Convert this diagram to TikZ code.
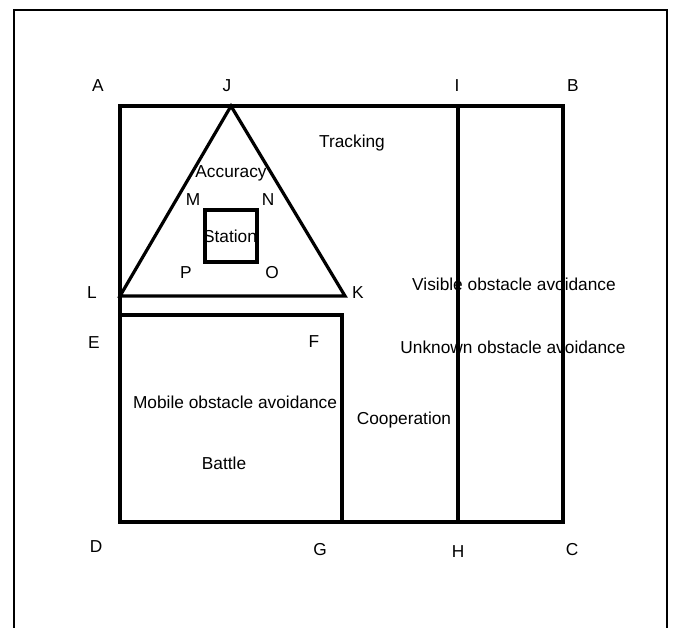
\documentclass[tikz,border=0pt]{standalone}
\usepackage{fontspec}
\setmainfont{Liberation Sans}
\begin{document}
\begin{tikzpicture}[x=1pt,y=-1pt,
  thickline/.style={line width=3.2pt},
  lbl/.style={inner sep=0pt,font=\fontsize{17.3}{20}\selectfont},
  txt/.style={inner sep=0pt,font=\fontsize{17.3}{20}\selectfont}]
\useasboundingbox (0,0) rectangle (674,628);
\draw[line width=1.3pt] (14,640) -- (14,10) -- (667,10) -- (667,640);
% corner coordinates
\coordinate (A) at (120,106);
\coordinate (B) at (563,106);
\coordinate (C) at (563,522);
\coordinate (D) at (120,522);
\coordinate (I) at (458,106);
\coordinate (H) at (458,522);
\coordinate (J) at (231,106);
\coordinate (L) at (120,296);
\coordinate (K) at (345,296);
\coordinate (E) at (120,315);
\coordinate (F) at (342,315);
\coordinate (G) at (342,522);
\coordinate (M) at (205,210);
\coordinate (O) at (257,262);
% shapes
\draw[thickline,line join=miter] (A) rectangle (C);
\draw[thickline] (I) -- (H);
\draw[thickline,line join=miter] (J) -- (K) -- (L) -- cycle;
\draw[thickline,line join=miter] (D) -- (E) -- (F) -- (G);
\draw[thickline,line join=miter] (M) rectangle (O);
% point labels
\node[lbl] (tA) at (98,86) {A};
\node[lbl] (tJ) at (227,86) {J};
\node[lbl] (tI) at (457,86) {I};
\node[lbl] (tB) at (573,86) {B};
\node[lbl] (tL) at (92,293) {L};
\node[lbl] (tK) at (358,293) {K};
\node[lbl] (tE) at (94,343) {E};
\node[lbl] (tF) at (314,342) {F};
\node[lbl] (tD) at (96,547) {D};
\node[lbl] (tG) at (320,550) {G};
\node[lbl] (tH) at (458,552) {H};
\node[lbl] (tC) at (572,550) {C};
\node[lbl] (tM) at (193,200) {M};
\node[lbl] (tN) at (268,200) {N};
\node[lbl] (tP) at (186,273) {P};
\node[lbl] (tO) at (272,273) {O};
% region texts
\node[txt] (acc) at (231,173) {Accuracy};
\node[txt] (sta) at (230,236) {Station};
\node[txt] (trk) at (352,143) {Tracking};
\node[txt] (vis) at (514,284) {Visible obstacle avoidance};
\node[txt] (unk) at (513,347) {Unknown obstacle avoidance};
\node[txt] (mob) at (235,402) {Mobile obstacle avoidance};
\node[txt] (bat) at (224,463) {Battle};
\node[txt] (coo) at (404,420) {Cooperation};
\end{tikzpicture}
\end{document}
